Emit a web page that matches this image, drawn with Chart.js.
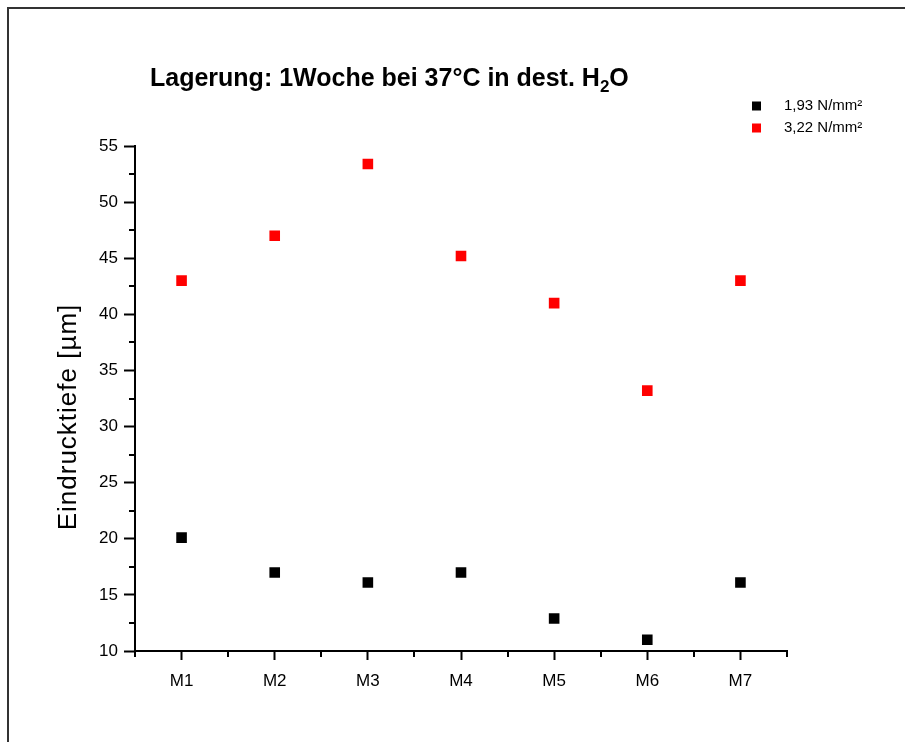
<!DOCTYPE html>
<html><head><meta charset="utf-8">
<script src="https://cdn.jsdelivr.net/npm/chart.js@4"></script>
<style>html,body{margin:0;padding:0;background:#fff;}#wrap{width:905px;height:742px;position:relative}canvas{display:block}</style>
</head><body><div id="wrap"><canvas id="c" width="905" height="742"></canvas></div>
<script>
const categories = ['M1','M2','M3','M4','M5','M6','M7'];
const series1Label = '1,93 N/mm²';
const series1Values = [20.1, 17.0, 16.1, 17.0, 12.9, 11.0, 16.1];
const series2Label = '3,22 N/mm²';
const series2Values = [43.0, 47.0, 53.4, 45.2, 41.0, 33.2, 43.0];
const yTicks = [10, 15, 20, 25, 30, 35, 40, 45, 50, 55];
const titleMain = 'Lagerung: 1Woche bei 37°C in dest. H';
const titleSub = '2';
const titleEnd = 'O';
const yAxisTitle = 'Eindrucktiefe [µm]';

const FONT = '"Liberation Sans", Arial, sans-serif';

const decor = {
  id: 'decor',
  afterDraw(chart) {
    const ctx = chart.ctx, xs = chart.scales.x, ys = chart.scales.y;
    ctx.save();
    // outer frame
    ctx.strokeStyle = '#333'; ctx.lineWidth = 2;
    ctx.beginPath(); ctx.moveTo(8, 742); ctx.lineTo(8, 8); ctx.lineTo(905, 8); ctx.stroke();
    // minor ticks
    ctx.strokeStyle = '#000'; ctx.lineWidth = 2;
    ctx.beginPath();
    for (let i = 0; i <= categories.length; i++) {
      const px = Math.round(xs.getPixelForValue(i - 0.5));
      ctx.moveTo(px, ys.bottom); ctx.lineTo(px, ys.bottom + 6);
    }
    for (let k = 0; k < yTicks.length - 1; k++) {
      const py = Math.round(ys.getPixelForValue((yTicks[k] + yTicks[k + 1]) / 2));
      ctx.moveTo(xs.left, py); ctx.lineTo(xs.left - 6, py);
    }
    ctx.stroke();
    // title
    ctx.fillStyle = '#000';
    ctx.textBaseline = 'alphabetic'; ctx.textAlign = 'left';
    ctx.font = 'bold 25px ' + FONT;
    let x = 150; const base = 86;
    ctx.fillText(titleMain, x, base); x += ctx.measureText(titleMain).width;
    ctx.font = 'bold 17px ' + FONT;
    ctx.fillText(titleSub, x, base + 6); x += ctx.measureText(titleSub).width;
    ctx.font = 'bold 25px ' + FONT;
    ctx.fillText(titleEnd, x, base);
    // y axis title
    ctx.save();
    ctx.translate(69, 417); ctx.rotate(-Math.PI / 2);
    ctx.font = '26px ' + FONT; ctx.textAlign = 'center'; ctx.textBaseline = 'middle';
    if ('letterSpacing' in ctx) ctx.letterSpacing = '1px';
    ctx.fillText(yAxisTitle, 0, 0);
    ctx.restore();
    // legend
    ctx.font = '15px ' + FONT; ctx.textBaseline = 'middle'; ctx.textAlign = 'left';
    chart.data.datasets.forEach((ds, i) => {
      const cy = 106 + i * 22;
      ctx.fillStyle = ds.backgroundColor;
      ctx.fillRect(752, cy - 4.5, 9, 9);
      ctx.fillStyle = '#000';
      ctx.fillText(ds.label, 784, cy);
    });
    ctx.restore();
  }
};

new Chart(document.getElementById('c'), {
  type: 'line',
  data: {
    labels: categories,
    datasets: [
      { label: series1Label, data: series1Values, showLine: false, pointStyle: 'rect',
        pointRadius: 7.5, pointHoverRadius: 7.5, backgroundColor: '#000', borderColor: '#000', borderWidth: 0 },
      { label: series2Label, data: series2Values, showLine: false, pointStyle: 'rect',
        pointRadius: 7.5, pointHoverRadius: 7.5, backgroundColor: '#ff0000', borderColor: '#ff0000', borderWidth: 0 }
    ]
  },
  options: {
    responsive: false,
    animation: false,
    events: [],
    layout: { padding: { left: 0, top: 146, right: 118, bottom: 0 } },
    plugins: { legend: { display: false }, title: { display: false }, tooltip: { enabled: false } },
    scales: {
      x: {
        type: 'category', offset: true,
        grid: { display: true, drawOnChartArea: false, drawTicks: true, tickLength: 9, tickColor: '#000', tickWidth: 2, offset: false },
        border: { display: true, color: '#000', width: 2 },
        ticks: { color: '#000', font: { family: FONT, size: 17 }, padding: 11, maxRotation: 0 },
        afterFit: s => { s.height = 91; }
      },
      y: {
        min: 10, max: 55,
        afterBuildTicks: s => { s.ticks = yTicks.map(v => ({ value: v })); },
        grid: { display: true, drawOnChartArea: false, drawTicks: true, tickLength: 11, tickColor: '#000', tickWidth: 2 },
        border: { display: true, color: '#000', width: 2 },
        ticks: { color: '#000', font: { family: FONT, size: 17 }, padding: 6 },
        afterFit: s => { s.width = 135; }
      }
    }
  },
  plugins: [decor]
});
</script></body></html>
